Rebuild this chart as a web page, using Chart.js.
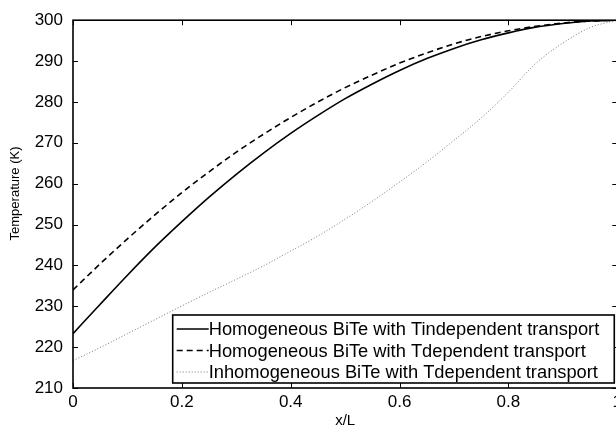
<!DOCTYPE html>
<html>
<head>
<meta charset="utf-8">
<script src="https://cdn.jsdelivr.net/npm/chart.js@4.4.1/dist/chart.umd.min.js"></script>
<style>
html,body{margin:0;padding:0;overflow:hidden;background:#fff;width:616px;height:433px;}
#wrap{position:absolute;left:0;top:0;}
</style>
</head>
<body>
<div id="wrap"><canvas id="c" width="626" height="433"></canvas></div>
<script>
// ---- data ----
const xPositions = [0,0.05,0.1,0.15,0.2,0.25,0.3,0.35,0.4,0.45,0.5,0.55,0.6,0.65,0.7,0.75,0.8,0.85,0.9,0.95,1];
const tIndependent = [223.3,230.5,237.6,244.4,250.7,256.7,262.3,267.5,272.3,276.7,280.8,284.4,287.7,290.6,293.1,295.2,296.9,298.3,299.2,299.8,300];
const tDependent   = [234.0,240.4,246.5,252.3,257.8,262.9,267.7,272.1,276.2,280.0,283.5,286.6,289.5,292.0,294.2,296.0,297.4,298.5,299.3,299.8,300];
const inhomogeneous= [216.7,219.9,223.3,226.7,230.1,233.4,236.6,239.9,243.5,247.2,251.3,255.7,260.4,265.3,270.6,276.1,282.4,289.4,294.4,298.2,300];
const seriesLabels = [
  'Homogeneous BiTe with Tindependent transport',
  'Homogeneous BiTe with Tdependent transport',
  'Inhomogeneous BiTe with Tdependent transport'
];
const xTickValues = [0,0.2,0.4,0.6,0.8,1];
const yTickValues = [210,220,230,240,250,260,270,280,290,300];
const xTitle = 'x/L';
const yTitle = 'Temperature (K)';

const FONT = '"Liberation Sans", Arial, Helvetica, sans-serif';

function pts(ys){ return xPositions.map((x,i)=>({x:x,y:ys[i]})); }

const frameAndTicks = {
  id:'frameAndTicks',
  afterDatasetsDraw(chart){
    const ctx = chart.ctx, a = chart.chartArea;
    const xs = chart.scales.x, ys = chart.scales.y;
    const L = 5;
    ctx.save();
    ctx.strokeStyle = '#000';
    ctx.lineWidth = 1;
    ctx.beginPath();
    xs.ticks.forEach(t=>{
      const px = Math.round(xs.getPixelForValue(t.value))+0.5;
      ctx.moveTo(px,a.bottom); ctx.lineTo(px,a.bottom-L);
      ctx.moveTo(px,a.top); ctx.lineTo(px,a.top+L);
    });
    ys.ticks.forEach(t=>{
      const py = Math.round(ys.getPixelForValue(t.value))+0.5;
      ctx.moveTo(a.left,py); ctx.lineTo(a.left+L,py);
      ctx.moveTo(a.right,py); ctx.lineTo(a.right-L,py);
    });
    ctx.stroke();
    ctx.lineWidth = 1.6;
    ctx.strokeRect(a.left, a.top, a.right-a.left, a.bottom-a.top);
    ctx.restore();
  }
};

const yTitleDraw = {
  id:'yTitleDraw',
  afterDraw(chart){
    const ctx = chart.ctx, ys = chart.scales.y;
    ctx.save();
    ctx.font = '13px ' + FONT;
    ctx.fillStyle = '#000';
    ctx.textAlign = 'center';
    ctx.textBaseline = 'middle';
    ctx.translate(15, ys.getPixelForValue(257.6));
    ctx.rotate(-Math.PI/2);
    ctx.fillText(yTitle, 0, 0);
    ctx.restore();
  }
};

const boxLegend = {
  id:'boxLegend',
  afterDraw(chart){
    const ctx = chart.ctx, a = chart.chartArea;
    const ds = chart.data.datasets;
    ctx.save();
    ctx.font = '18.3px ' + FONT;
    let tw = 0;
    ds.forEach(d=>{ tw = Math.max(tw, ctx.measureText(d.label).width); });
    const right = a.right - 3, bottom = a.bottom - 5;
    const rowH = 21.5;
    const h = rowH*ds.length + 3.5;
    const w = 36 + tw + 15;
    const left = right - w, top = bottom - h;
    ctx.fillStyle = '#fff';
    ctx.fillRect(left, top, w, h);
    ctx.strokeStyle = '#000';
    ctx.lineWidth = 1.6;
    ctx.strokeRect(left, top, w, h);
    ctx.textBaseline = 'middle';
    ctx.textAlign = 'left';
    ds.forEach((d,i)=>{
      const cy = top + 14 + i*rowH;
      ctx.save();
      ctx.strokeStyle = d.borderColor;
      ctx.lineWidth = d.borderWidth;
      ctx.setLineDash(d.borderDash || []);
      ctx.beginPath();
      ctx.moveTo(left+4, cy); ctx.lineTo(left+36, cy);
      ctx.stroke();
      ctx.restore();
      ctx.fillStyle = '#000';
      ctx.fillText(d.label, left+36, cy+1);
    });
    ctx.restore();
  }
};

new Chart(document.getElementById('c'), {
  type:'line',
  data:{
    datasets:[
      {label:seriesLabels[0], data:pts(tIndependent), borderColor:'#000', borderWidth:1.6, borderDash:[], pointRadius:0, cubicInterpolationMode:'monotone', fill:false},
      {label:seriesLabels[1], data:pts(tDependent), borderColor:'#000', borderWidth:1.6, borderDash:[6,4], pointRadius:0, cubicInterpolationMode:'monotone', fill:false},
      {label:seriesLabels[2], data:pts(inhomogeneous), borderColor:'#777', borderWidth:1, borderDash:[1,2], pointRadius:0, cubicInterpolationMode:'monotone', fill:false}
    ]
  },
  options:{
    responsive:false,
    animation:false,
    devicePixelRatio:1,
    layout:{padding:{top:13,right:8,left:0,bottom:0}},
    plugins:{legend:{display:false},tooltip:{enabled:false}},
    scales:{
      x:{
        type:'linear', min:0, max:1,
        afterBuildTicks(s){ s.ticks = xTickValues.map(v=>({value:v})); },
        afterFit(s){ s.height = 45; },
        grid:{display:false, drawTicks:false},
        border:{display:false},
        ticks:{padding:4, color:'#000', font:{family:FONT,size:17}, maxRotation:0, autoSkip:false,
          callback:(v)=>String(v)},
        title:{display:true, text:xTitle, color:'#000', font:{family:FONT,size:15}, padding:{top:0,bottom:3}}
      },
      y:{
        type:'linear', min:210, max:300,
        afterBuildTicks(s){ s.ticks = yTickValues.map(v=>({value:v})); },
        afterFit(s){ s.width = 73; },
        grid:{display:false, drawTicks:false},
        border:{display:false},
        ticks:{padding:10, color:'#000', font:{family:FONT,size:17}, autoSkip:false},
        title:{display:false, text:yTitle}
      }
    }
  },
  plugins:[frameAndTicks, yTitleDraw, boxLegend]
});
</script>
</body>
</html>
